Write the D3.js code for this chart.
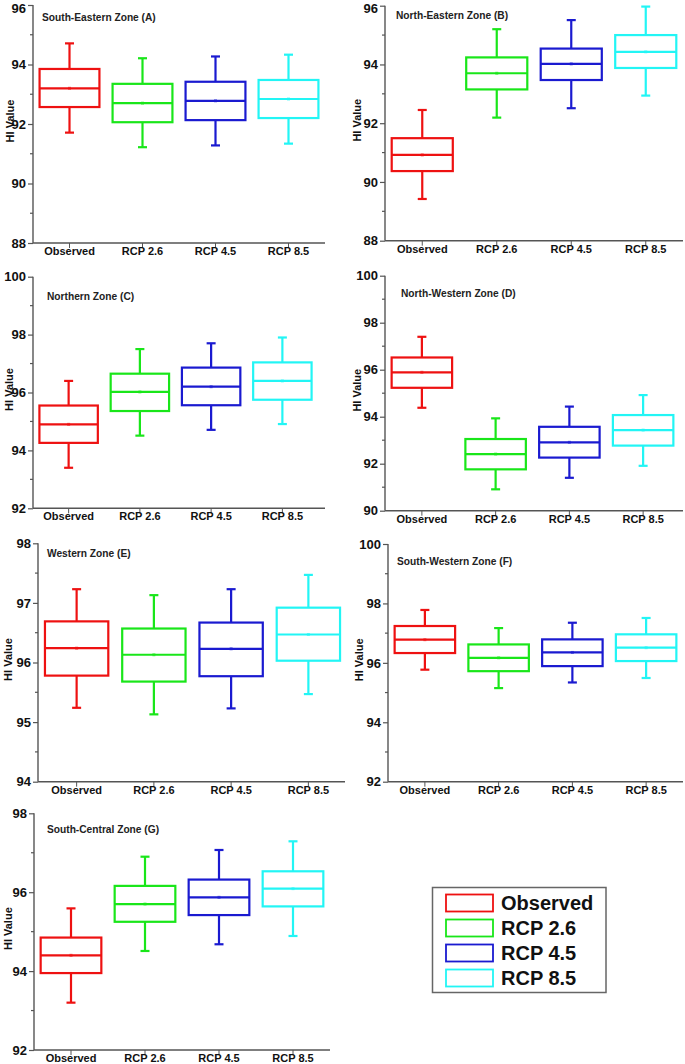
<!DOCTYPE html>
<html><head><meta charset="utf-8">
<script src="https://cdn.jsdelivr.net/npm/d3@7"></script>
<style>
html,body{margin:0;padding:0;background:#fff;}
svg{display:block;font-family:"Liberation Sans",Arial,sans-serif;}
</style></head>
<body>
<svg id="chart" width="685" height="1064"></svg>
<script>
const categories = ["Observed", "RCP 2.6", "RCP 4.5", "RCP 8.5"];
const colors = ["#ee1111", "#19e619", "#1a1ad0", "#22f5f5"];
const zoneTitles = ["South-Eastern Zone (A)", "North-Eastern Zone (B)", "Northern Zone (C)",
  "North-Western Zone (D)", "Western Zone (E)", "South-Western Zone (F)", "South-Central Zone (G)"];
const yDomains = [[88, 96], [88, 96], [92, 100], [90, 100], [94, 98], [92, 100], [92, 98]];
const yTickValues = [[88, 90, 92, 94, 96], [88, 90, 92, 94, 96], [92, 94, 96, 98, 100],
  [90, 92, 94, 96, 98, 100], [94, 95, 96, 97, 98], [92, 94, 96, 98, 100], [92, 94, 96, 98]];
const yMinorStep = [1, 1, 1, 1, 0.5, 1, 1];
const yLabel = "HI Value";
// each box: [lower whisker, Q1, median, Q3, upper whisker], mean ~ median
const zoneA = [[91.71, 92.57, 93.20, 93.85, 94.71], [91.22, 92.06, 92.70, 93.35, 94.21],
  [91.28, 92.13, 92.78, 93.42, 94.27], [91.34, 92.20, 92.84, 93.48, 94.33]];
const zoneB = [[89.42, 90.37, 90.92, 91.49, 92.45], [92.19, 93.15, 93.70, 94.24, 95.20],
  [92.51, 93.47, 94.02, 94.54, 95.51], [92.94, 93.88, 94.43, 95.00, 95.97]];
const zoneC = [[93.40, 94.26, 94.90, 95.55, 96.40], [94.51, 95.36, 96.02, 96.65, 97.50],
  [94.71, 95.56, 96.20, 96.86, 97.70], [94.91, 95.75, 96.40, 97.04, 97.90]];
const zoneD = [[94.38, 95.23, 95.89, 96.52, 97.40], [90.91, 91.76, 92.41, 93.05, 93.93],
  [91.40, 92.26, 92.91, 93.57, 94.43], [91.91, 92.77, 93.43, 94.07, 94.92]];
const zoneE = [[95.24, 95.78, 96.24, 96.69, 97.23], [95.13, 95.68, 96.13, 96.57, 97.13],
  [95.23, 95.77, 96.23, 96.67, 97.23], [95.47, 96.03, 96.47, 96.92, 97.47]];
const zoneF = [[95.77, 96.33, 96.78, 97.24, 97.78], [95.15, 95.72, 96.17, 96.62, 97.17],
  [95.34, 95.89, 96.35, 96.79, 97.35], [95.49, 96.06, 96.51, 96.96, 97.51]];
const zoneG = [[93.20, 93.95, 94.40, 94.85, 95.59], [94.51, 95.25, 95.70, 96.16, 96.90],
  [94.68, 95.42, 95.87, 96.32, 97.07], [94.89, 95.64, 96.09, 96.53, 97.29]];
const zoneData = [zoneA, zoneB, zoneC, zoneD, zoneE, zoneF, zoneG];

// layout: axis x, band range end, axis line end, y top, y bottom, title x, title baseline, y-label centre x
const layout = [
  {ax: 33, xr: 325, xl: 325, yt: 5, yb: 243, tx: 42, ty: 21, lx: 9.5},
  {ax: 385, xr: 683, xl: 683, yt: 5.7, yb: 240.7, tx: 396, ty: 19, lx: 357},
  {ax: 33, xr: 318, xl: 325, yt: 276.7, yb: 508.3, tx: 47, ty: 299.5, lx: 9},
  {ax: 385, xr: 680, xl: 683, yt: 275.7, yb: 510.7, tx: 401, ty: 297, lx: 357},
  {ax: 38, xr: 347, xl: 345, yt: 543.3, yb: 781.7, tx: 47, ty: 557, lx: 8},
  {ax: 388, xr: 683, xl: 683, yt: 544, yb: 781.7, tx: 397, ty: 564.5, lx: 359},
  {ax: 34, xr: 330, xl: 330, yt: 813.3, yb: 1050, tx: 47, ty: 833, lx: 8}
];

const svg = d3.select("#chart");
const axisColor = "#555";

zoneData.forEach((boxes, i) => {
  const L = layout[i];
  const g = svg.append("g");
  const y = d3.scaleLinear().domain(yDomains[i]).range([L.yb, L.yt]);
  const x = d3.scaleBand().domain(categories).range([L.ax, L.xr]).paddingInner(0.18).paddingOuter(0.09);

  // y axis
  const yAxis = d3.axisLeft(y).tickValues(yTickValues[i]).tickSize(5).tickPadding(2).tickFormat(d3.format("d"));
  const ya = g.append("g").attr("transform", `translate(${L.ax},0)`).call(yAxis);
  ya.select(".domain").remove();
  ya.selectAll(".tick line").attr("stroke", axisColor).attr("stroke-width", 1.2);
  ya.selectAll(".tick text").attr("font-size", 13).attr("font-weight", "bold").attr("fill", "#111")
    .attr("font-family", "'Liberation Sans', Arial, sans-serif")
    .attr("y", d => (y(d) < 8 ? 8 - y(d) : 0));
  // minor ticks
  const [d0, d1] = yDomains[i];
  const minor = d3.range(d0, d1 + 1e-9, yMinorStep[i]).filter(v => !yTickValues[i].includes(v));
  g.selectAll(".minor").data(minor).join("line")
    .attr("x1", L.ax - 3).attr("x2", L.ax).attr("y1", d => y(d)).attr("y2", d => y(d))
    .attr("stroke", axisColor).attr("stroke-width", 1.2);
  g.append("line").attr("x1", L.ax).attr("x2", L.ax).attr("y1", L.yt).attr("y2", L.yb)
    .attr("stroke", axisColor).attr("stroke-width", 1.4);

  // x axis
  const xAxis = d3.axisBottom(x).tickSize(5).tickPadding(1);
  const xa = g.append("g").attr("transform", `translate(0,${L.yb})`).call(xAxis);
  xa.select(".domain").remove();
  xa.selectAll(".tick line").attr("stroke", axisColor).attr("stroke-width", 1);
  xa.selectAll(".tick text").attr("font-size", 11).attr("font-weight", "bold").attr("fill", "#111")
    .attr("dy", "0.55em").attr("font-family", "'Liberation Sans', Arial, sans-serif");
  g.append("line").attr("x1", L.ax).attr("x2", L.xl).attr("y1", L.yb).attr("y2", L.yb)
    .attr("stroke", axisColor).attr("stroke-width", 1.4);

  // title
  g.append("text").attr("x", L.tx).attr("y", L.ty).text(zoneTitles[i])
    .attr("font-size", 10.2).attr("font-weight", "bold").attr("fill", "#222");
  // y label
  g.append("text").attr("transform", `translate(${L.lx + 4},${(L.yt + L.yb) / 2 - 3}) rotate(-90)`)
    .attr("text-anchor", "middle").text(yLabel)
    .attr("font-size", 11).attr("font-weight", "bold").attr("fill", "#111");

  // boxes
  const bw = x.bandwidth();
  const cap = 9;
  boxes.forEach((b, j) => {
    const c = categories[j];
    const cx = x(c) + bw / 2;
    const col = colors[j];
    const bg = g.append("g").attr("stroke", col).attr("stroke-width", 2.2).attr("fill", "none");
    bg.append("line").attr("x1", cx).attr("x2", cx).attr("y1", y(b[4])).attr("y2", y(b[3]));
    bg.append("line").attr("x1", cx).attr("x2", cx).attr("y1", y(b[1])).attr("y2", y(b[0]));
    bg.append("line").attr("x1", cx - cap / 2).attr("x2", cx + cap / 2).attr("y1", y(b[4])).attr("y2", y(b[4]));
    bg.append("line").attr("x1", cx - cap / 2).attr("x2", cx + cap / 2).attr("y1", y(b[0])).attr("y2", y(b[0]));
    bg.append("rect").attr("x", x(c)).attr("y", y(b[3])).attr("width", bw).attr("height", y(b[1]) - y(b[3]));
    bg.append("line").attr("x1", x(c)).attr("x2", x(c) + bw).attr("y1", y(b[2])).attr("y2", y(b[2]));
    g.append("rect").attr("x", cx - 1.5).attr("y", y(b[2]) - 1.5).attr("width", 3).attr("height", 3)
      .attr("fill", col).attr("opacity", 0.6);
  });
});

// legend
const lg = svg.append("g");
lg.append("rect").attr("x", 432.5).attr("y", 887.5).attr("width", 173.5).attr("height", 105)
  .attr("fill", "#fff").attr("stroke", "#666").attr("stroke-width", 1.5);
const ly = d3.scalePoint().domain(categories).range([903, 978]);
categories.forEach((c, j) => {
  lg.append("rect").attr("x", 446).attr("y", ly(c) - 8.5).attr("width", 47).attr("height", 17)
    .attr("fill", "none").attr("stroke", colors[j]).attr("stroke-width", 1.8);
  lg.append("text").attr("x", 501).attr("y", ly(c)).attr("dy", "0.36em").text(c)
    .attr("font-size", 20).attr("font-weight", "bold").attr("fill", "#111");
});
</script>
</body></html>
